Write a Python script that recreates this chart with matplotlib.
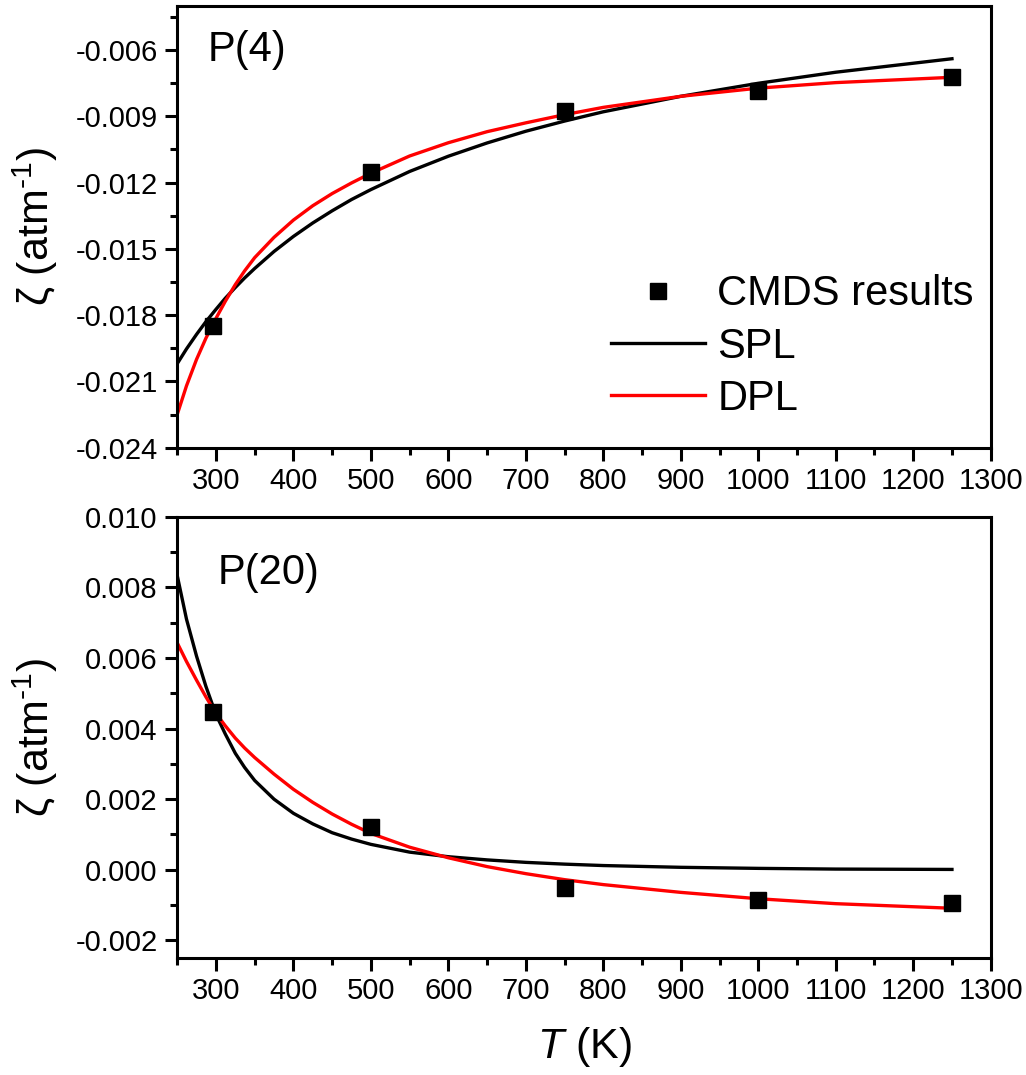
import numpy as np
import matplotlib
matplotlib.use("Agg")
import matplotlib.pyplot as plt
from matplotlib.ticker import MultipleLocator, FormatStrFormatter

plt.rcParams['font.family'] = ['Liberation Sans', 'DejaVu Sans']
plt.rcParams['axes.unicode_minus'] = False
plt.rcParams['mathtext.fontset'] = 'custom'
plt.rcParams['mathtext.rm'] = 'Liberation Sans'
plt.rcParams['mathtext.it'] = 'Liberation Sans:italic'

# CMDS results
T_cmds = [296, 500, 750, 1000, 1250]
p4_cmds = [-0.01849, -0.01152, -0.00875, -0.00784, -0.00724]
p20_cmds = [0.00446, 0.00121, -0.00051, -0.00087, -0.00095]

# fitted curves
T_fit = [250, 262, 275, 287, 300, 312, 325, 337, 350, 375, 400, 425, 450,
         475, 500, 550, 600, 650, 700, 750, 800, 900, 1000, 1100, 1250]
p4_spl = [-0.0202, -0.01953, -0.01887, -0.0183, -0.01774, -0.01724,
          -0.01675, -0.01632, -0.01589, -0.01512, -0.01444, -0.01383,
          -0.01328, -0.01277, -0.01232, -0.0115, -0.01081, -0.01021,
          -0.00968, -0.00922, -0.0088, -0.0081, -0.00751, -0.00701, -0.0064]
p4_dpl = [-0.0225, -0.0212, -0.0200, -0.01905, -0.01815, -0.01738,
          -0.01662, -0.0160, -0.0154, -0.01448, -0.0137, -0.01305,
          -0.0125, -0.01202, -0.01158, -0.0108, -0.0102, -0.0097,
          -0.0093, -0.00893, -0.0086, -0.0081, -0.00773, -0.00748, -0.00724]
p20_spl = [0.00834, 0.0071, 0.00605, 0.0052, 0.0044, 0.00385, 0.0033,
           0.0029, 0.00253, 0.0020, 0.0016, 0.0013, 0.00105, 0.00087,
           0.00072, 0.0005, 0.00037, 0.00028, 0.00021, 0.00016, 0.00012,
           0.00007, 0.00004, 0.00002, 0.00001]
p20_dpl = [0.00643, 0.0059, 0.00537, 0.0049, 0.00443, 0.00408, 0.00373,
           0.00345, 0.00318, 0.00271, 0.00228, 0.00191, 0.00158, 0.00129,
           0.00103, 0.00064, 0.00034, 0.00009, -0.00011, -0.00028,
           -0.00042, -0.00064, -0.00082, -0.00096, -0.00109]

fig = plt.figure(figsize=(10.26, 10.75), dpi=100)
ax1 = fig.add_axes([0.1727, 0.5835, 0.7929, 0.4112])
ax2 = fig.add_axes([0.1727, 0.1088, 0.7929, 0.4105])

lw = 2.4
ms = 11.5


def style(ax, ymaj, ymin, fmt):
    for s in ax.spines.values():
        s.set_linewidth(2.2)
    ax.set_xlim(250, 1300)
    ax.xaxis.set_major_locator(MultipleLocator(100))
    ax.xaxis.set_minor_locator(MultipleLocator(50))
    ax.yaxis.set_major_locator(MultipleLocator(ymaj))
    ax.yaxis.set_minor_locator(MultipleLocator(ymin))
    ax.yaxis.set_major_formatter(FormatStrFormatter(fmt))
    ax.tick_params(which='major', direction='out', length=9, width=2.2,
                   labelsize=21, pad=5)
    ax.tick_params(which='minor', direction='out', length=5, width=2.2)
    ax.set_ylabel(r'ζ (atm$^{\text{-1}}$)', fontsize=31)
    ax.yaxis.set_label_coords(-0.144, 0.5)


ax1.plot(T_fit, p4_spl, color='black', lw=lw, label='SPL')
ax1.plot(T_fit, p4_dpl, color='#ff0000', lw=lw, label='DPL')
ax1.plot(T_cmds, p4_cmds, 's', color='black', ms=ms, label='CMDS results')
style(ax1, 0.003, 0.0015, '%.3f')
ax1.set_ylim(-0.024, -0.004)
ax1.text(0.038, 0.90, 'P(4)', transform=ax1.transAxes, fontsize=30,
         va='center', ha='left')
h, l = ax1.get_legend_handles_labels()
ax1.legend([h[2], h[0], h[1]], [l[2], l[0], l[1]], loc='upper left',
           bbox_to_anchor=(0.533, 0.392), frameon=False, fontsize=30,
           numpoints=1, handlelength=2.25, handletextpad=0.31,
           labelspacing=0.29, borderpad=0, borderaxespad=0)

ax2.plot(T_fit, p20_spl, color='black', lw=lw)
ax2.plot(T_fit, p20_dpl, color='#ff0000', lw=lw)
ax2.plot(T_cmds, p20_cmds, 's', color='black', ms=ms)
style(ax2, 0.002, 0.001, '%.3f')
ax2.set_ylim(-0.0025, 0.010)
ax2.text(0.05, 0.872, 'P(20)', transform=ax2.transAxes, fontsize=30,
         va='center', ha='left')
ax2.set_xlabel(r'$T$ (K)', fontsize=31, labelpad=14)

fig.savefig('out.png', dpi=100)
